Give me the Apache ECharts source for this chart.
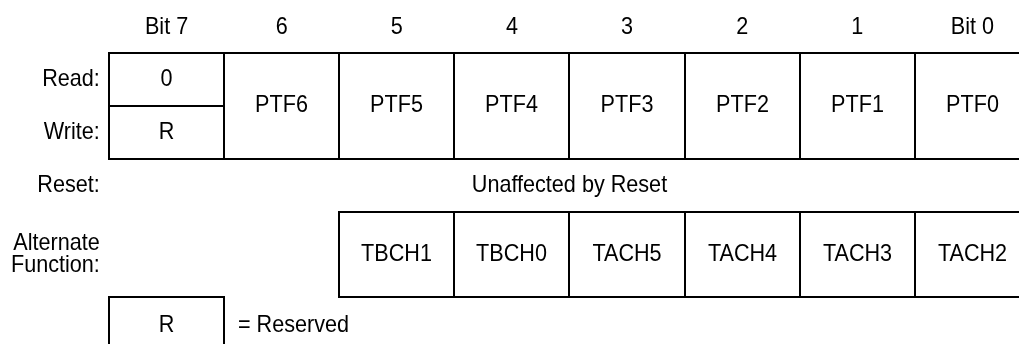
<!DOCTYPE html>
<html>
<head>
<meta charset="utf-8">
<script src="https://cdn.jsdelivr.net/npm/echarts@6/dist/echarts.min.js"></script>
<style>
html,body{margin:0;padding:0;background:#fff;}
#chart{width:1019px;height:344px;}
</style>
</head>
<body>
<div id="chart"></div>
<script>
// ---- data ----
const bitLabels = ['Bit 7', '6', '5', '4', '3', '2', '1', 'Bit 0'];
const readValues = ['0', 'PTF6', 'PTF5', 'PTF4', 'PTF3', 'PTF2', 'PTF1', 'PTF0'];
const writeValues = ['R', 'PTF6', 'PTF5', 'PTF4', 'PTF3', 'PTF2', 'PTF1', 'PTF0'];
const resetText = 'Unaffected by Reset';
const altFunctions = ['', '', 'TBCH1', 'TBCH0', 'TACH5', 'TACH4', 'TACH3', 'TACH2'];
const rowLabels = ['Read:', 'Write:', 'Reset:', 'Alternate\nFunction:'];
const legendKey = 'R';
const legendText = '= Reserved';

// ---- layout in axis units (column index / row units) ----
const FONT = '"Liberation Sans", Arial, Helvetica, sans-serif';
const FS = 24;
const SX = 0.9; // horizontal condensing to mimic Helvetica Narrow
const VISIBLE_COLS = 7.905; // the last column runs past the right edge of the picture
const ROW = { header: 0.52, readTop: 1, mid: 2, writeBottom: 3, reset: 3.5, altTop: 4, altBottom: 5.62, legTop: 5.62, legBottom: 6.7, legMid: 6.15 };

// build cells
const cells = [];   // [x0, x1, y0, y1, textY]
const cellText = [];
for (let i = 0; i < bitLabels.length; i++) {
  if (readValues[i] === writeValues[i]) {
    cells.push([i, i + 1, ROW.readTop, ROW.writeBottom, (ROW.readTop + ROW.writeBottom) / 2]);
    cellText.push(readValues[i]);
  } else {
    cells.push([i, i + 1, ROW.readTop, ROW.mid, (ROW.readTop + ROW.mid) / 2]);
    cellText.push(readValues[i]);
    cells.push([i, i + 1, ROW.mid, ROW.writeBottom, (ROW.mid + ROW.writeBottom) / 2]);
    cellText.push(writeValues[i]);
  }
}
for (let i = 0; i < altFunctions.length; i++) {
  if (altFunctions[i] !== '') {
    cells.push([i, i + 1, ROW.altTop, ROW.altBottom, (ROW.altTop + ROW.altBottom) / 2]);
    cellText.push(altFunctions[i]);
  }
}
cells.push([0, 1, ROW.legTop, ROW.legBottom, ROW.legMid]);
cellText.push(legendKey);

// free texts: [x, y]
const texts = [];
const textInfo = [];
bitLabels.forEach((b, i) => { texts.push([i + 0.5, ROW.header]); textInfo.push({ t: b, align: 'center' }); });
texts.push([-0.08, 1.5]); textInfo.push({ t: rowLabels[0], align: 'right' });
texts.push([-0.08, 2.5]); textInfo.push({ t: rowLabels[1], align: 'right' });
texts.push([-0.08, ROW.reset]); textInfo.push({ t: rowLabels[2], align: 'right' });
texts.push([-0.08, (ROW.altTop + ROW.altBottom) / 2]); textInfo.push({ t: rowLabels[3], align: 'right', lh: 22 });
texts.push([bitLabels.length / 2, ROW.reset]); textInfo.push({ t: resetText, align: 'center' });
texts.push([1.12, ROW.legMid]); textInfo.push({ t: legendText, align: 'left' });

function textEl(str, x, y, align, lh) {
  return {
    type: 'text', x: x, y: y, scaleX: SX, scaleY: 1,
    style: { text: str, x: 0, y: 0, align: align, verticalAlign: 'middle', fontSize: FS, fontFamily: FONT, fill: '#000', lineHeight: lh || FS }
  };
}

const chart = echarts.init(document.getElementById('chart'));
chart.setOption({
  backgroundColor: '#fff',
  animation: false,
  grid: { left: 109, right: 0, top: -1, bottom: 0 },
  xAxis: { type: 'value', min: 0, max: VISIBLE_COLS, show: false },
  yAxis: { type: 'value', min: 0, max: 6.5, inverse: true, show: false },
  series: [
    {
      type: 'custom',
      clip: false,
      data: cells,
      encode: { x: [0, 1], y: [2, 3] },
      renderItem: function (params, api) {
        const p0 = api.coord([api.value(0), api.value(2)]);
        const p1 = api.coord([api.value(1), api.value(3)]);
        const pt = api.coord([api.value(0), api.value(4)]);
        const x = Math.round(p0[0]), y = Math.round(p0[1]);
        const w = Math.round(p1[0]) - x, h = Math.round(p1[1]) - y;
        return {
          type: 'group',
          children: [
            { type: 'rect', shape: { x: x, y: y, width: w, height: h }, style: { fill: 'none', stroke: '#000', lineWidth: 2 } },
            textEl(cellText[params.dataIndex], x + w / 2, pt[1], 'center')
          ]
        };
      }
    },
    {
      type: 'custom',
      clip: false,
      data: texts,
      encode: { x: 0, y: 1 },
      renderItem: function (params, api) {
        const p = api.coord([api.value(0), api.value(1)]);
        const info = textInfo[params.dataIndex];
        return textEl(info.t, p[0], p[1], info.align, info.lh);
      }
    }
  ]
});
</script>
</body>
</html>
